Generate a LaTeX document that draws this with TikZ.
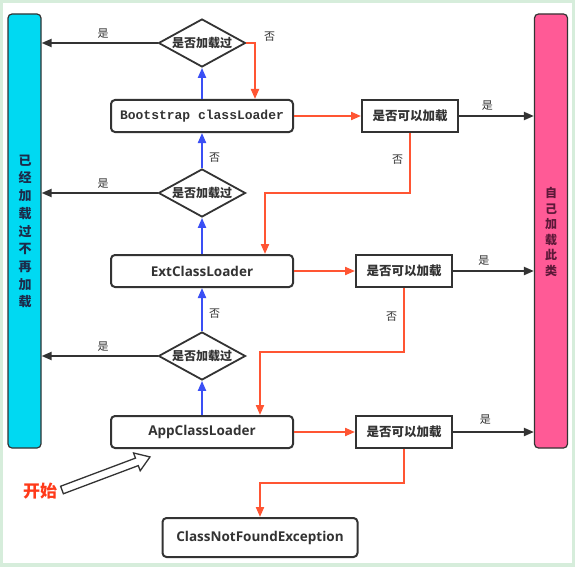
\documentclass[tikz,border=0pt]{standalone}
\usepackage{fontspec}
\setmainfont{Open Sans}
\newfontfamily\cjk{Noto Sans CJK SC}
\newfontfamily\monof{Liberation Mono}
\usetikzlibrary{shapes.geometric,arrows.meta,calc}
\definecolor{bgc}{HTML}{D6EDDB}
\definecolor{cyanbar}{HTML}{00D9F2}
\definecolor{pinkbar}{HTML}{FF5A96}
\definecolor{redl}{HTML}{FF5533}
\definecolor{bluel}{HTML}{3A4FF5}
\definecolor{darkl}{HTML}{333333}
\definecolor{startred}{HTML}{FF3A1A}
\definecolor{cyantext}{HTML}{1C2B4A}
\definecolor{pinktext}{HTML}{5C1838}
\begin{document}
\begin{tikzpicture}[x=1pt,y=-1pt,
  loader/.style={draw=darkl, line width=2pt, rounded corners=4pt, fill=white, minimum width=182pt, minimum height=32pt, inner sep=0pt, font=\fontsize{13.5}{15}\selectfont\bfseries, text=darkl},
  check/.style={draw=darkl, line width=2pt, fill=white, minimum width=96pt, minimum height=32pt, inner sep=0pt, font=\cjk\bfseries\fontsize{12.5}{14}\selectfont, text=darkl},
  loaded/.style={diamond, aspect=1.8, draw=darkl, line width=1.8pt, fill=white, minimum width=87pt, minimum height=48pt, inner sep=0pt, font=\cjk\bfseries\fontsize{12}{14}\selectfont, text=darkl},
  bar/.style={draw=darkl, line width=1.2pt, rounded corners=4pt, minimum width=33pt, minimum height=434pt, inner sep=0pt},
  lbl/.style={font=\cjk\fontsize{11}{13}\selectfont, text=darkl, inner sep=0pt},
  tip/.style={-{Triangle[length=10pt,width=8pt]}},
  redarr/.style={draw=redl, line width=2pt, tip},
  bluearr/.style={draw=bluel, line width=2pt, tip},
  blackarr/.style={draw=darkl, line width=2pt, tip}
]
\fill[bgc] (0,0) rectangle (575,567);
\fill[white] (3,3) rectangle (572,563);
\useasboundingbox (0,0) rectangle (575,567);

% side bars
\node[bar, fill=cyanbar] (cb) at (24.5,231) {};
\node[align=center, text=cyantext, inner sep=0pt, font=\cjk\bfseries\fontsize{13}{17.7}\selectfont] (cbt) at (25,231.5) {已\\经\\加\\载\\过\\不\\再\\加\\载};
\node[bar, fill=pinkbar] (pb) at (551,231) {};
\node[align=center, text=pinktext, inner sep=0pt, font=\cjk\bfseries\fontsize{12}{15.6}\selectfont] (pbt) at (551,232) {自\\己\\加\\载\\此\\类};

% main column
\node[loaded] (d1) at (202,43) {是否加载过};
\node[loaded] (d2) at (202,193) {是否加载过};
\node[loaded] (d3) at (202,356) {是否加载过};
\node[loader, font=\monof\bfseries\fontsize{13}{15}\selectfont] (boot) at (202,116) {Bootstrap classLoader};
\node[loader] (ext) at (202,271) {ExtClassLoader};
\node[loader] (app) at (202,432) {AppClassLoader};
\node[loader, minimum width=195pt, minimum height=39pt] (cnf) at (260,537.5) {ClassNotFoundException};

% can-load checks
\node[check] (r1) at (410,116) {是否可以加载};
\node[check] (r2) at (404,271) {是否可以加载};
\node[check] (r3) at (404,432) {是否可以加载};

% already loaded -> left bar
\draw[blackarr] (d1.west) -- (d1.west -| cb.east) node[lbl, pos=0.47, above=4pt] {是};
\draw[blackarr] (d2.west) -- (d2.west -| cb.east) node[lbl, pos=0.47, above=4pt] {是};
\draw[blackarr] (d3.west) -- (d3.west -| cb.east) node[lbl, pos=0.47, above=4pt] {是};

% not loaded -> delegate upwards
\draw[bluearr] (app.north) -- (d3.south);
\draw[bluearr] (d3.north) -- (ext.south) node[lbl, pos=0.4, right=6pt] {否};
\draw[bluearr] (ext.north) -- (d2.south);
\draw[bluearr] (d2.north) -- (boot.south) node[lbl, pos=0.3, right=6pt] {否};
\draw[bluearr] (boot.north) -- (d1.south);

% top not loaded -> bootstrap
\draw[redarr] (d1.east) -| ([xshift=53pt]boot.north) node[lbl, pos=0.5, anchor=south west, xshift=8pt, yshift=1pt] {否};

% loader -> can load
\draw[redarr] (boot.east) -- (r1.west);
\draw[redarr] (ext.east) -- (r2.west);
\draw[redarr] (app.east) -- (r3.west);

% can load -> right bar
\draw[blackarr] (r1.east) -- (r1.east -| pb.west) node[lbl, pos=0.38, above=5pt] {是};
\draw[blackarr] (r2.east) -- (r2.east -| pb.west) node[lbl, pos=0.38, above=5pt] {是};
\draw[blackarr] (r3.east) -- (r3.east -| pb.west) node[lbl, pos=0.4, above=7pt] {是};

% cannot load -> next loader down
\draw[redarr] (r1.south) -- (r1.south |- d2.east) node[lbl, pos=0.45, left=6pt] {否} -| ([xshift=63pt]ext.north);
\draw[redarr] (r2.south) -- ++(0,64) node[lbl, pos=0.45, left=6pt] {否} -| ([xshift=58pt]app.north);
\draw[redarr] (r3.south) -- ++(0,34) -| (cnf.north);

% start
\node[text=startred, inner sep=0pt, font=\cjk\bfseries\fontsize{17}{20}\selectfont] (start) at (40,491) {开始};
\begin{scope}[shift={(62,490)}, rotate=20.6]
  \draw[darkl, line width=1.3pt, fill=white, line join=miter]
    (0,-4) -- (80,-4) -- (80,-9.5) -- (94,0) -- (80,9.5) -- (80,4) -- (0,4) -- cycle;
\end{scope}
\end{tikzpicture}
\end{document}
